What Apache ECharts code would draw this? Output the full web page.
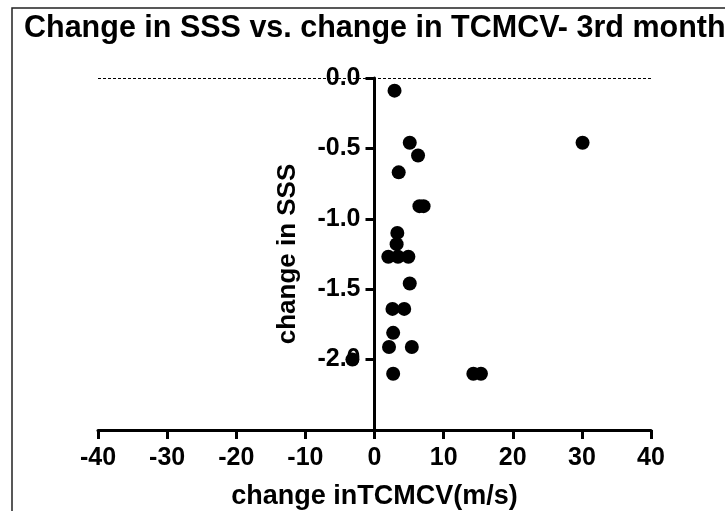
<!DOCTYPE html>
<html>
<head>
<meta charset="utf-8">
<script src="https://cdn.jsdelivr.net/npm/echarts@6/dist/echarts.min.js"></script>
<style>
  html, body { margin: 0; padding: 0; background: #fff; }
  #chart { width: 725px; height: 511px; }
</style>
</head>
<body>
<div id="chart"></div>
<script>
// change in TCMCV (m/s) vs change in SSS
const tcmcvChange = [2.9, 5.1, 6.3, 3.5, 6.5, 7.1, 30.1, 3.3, 3.2, 2.0, 3.4, 4.9, 5.1, 2.6, 4.3, 2.7, 2.1, 5.4, -3.2, 2.7, 14.3, 15.4]
const sssChange = [-0.09, -0.46, -0.55, -0.67, -0.91, -0.91, -0.46, -1.1, -1.18, -1.27, -1.27, -1.27, -1.46, -1.64, -1.64, -1.81, -1.91, -1.91, -2.0, -2.1, -2.1, -2.1]

const xTicks = { min: -40, max: 40, step: 10 }
const yTicks = { min: -2.5, max: 0, step: 0.5 }

const font = "'Liberation Sans', Arial, sans-serif"
const gridLeft = 98
const gridRight = 74
const chartWidth = 725
const chart = echarts.init(document.getElementById('chart'))

// y axis sits at x = 0, shift it there from the grid's left edge
const plotWidth = chartWidth - gridLeft - gridRight
const yAxisShift = ((0 - xTicks.min) / (xTicks.max - xTicks.min)) * plotWidth

chart.setOption({
  animation: false,
  backgroundColor: '#fff',
  title: {
    text: 'Change in SSS vs. change in TCMCV- 3rd month',
    left: 24,
    top: 13,
    padding: 0,
    textStyle: { fontFamily: font, fontSize: 30.5, fontWeight: 'bold', color: '#000' },
  },
  graphic: [
    {
      type: 'rect',
      shape: { x: 12, y: 8, width: 800, height: 600 },
      style: { fill: 'none', stroke: '#222', lineWidth: 1.5 },
      silent: true,
    },
  ],
  grid: { left: gridLeft, right: gridRight, top: 78, bottom: 81, outerBoundsMode: 'none' },
  xAxis: {
    type: 'value',
    min: xTicks.min,
    max: xTicks.max,
    interval: xTicks.step,
    name: 'change inTCMCV(m/s)',
    nameLocation: 'middle',
    nameGap: 53,
    nameTextStyle: { fontFamily: font, fontSize: 27, fontWeight: 'bold', color: '#000' },
    axisLine: { onZero: false, lineStyle: { color: '#000', width: 3 } },
    axisTick: { length: 9, lineStyle: { color: '#000', width: 3 } },
    axisLabel: { margin: 16, fontFamily: font, fontSize: 25, fontWeight: 'bold', color: '#000' },
    splitLine: { show: false },
  },
  yAxis: {
    type: 'value',
    min: yTicks.min,
    max: yTicks.max,
    interval: yTicks.step,
    offset: -yAxisShift,
    name: 'change in SSS',
    nameLocation: 'middle',
    nameGap: 74,
    nameTextStyle: { fontFamily: font, fontSize: 26, fontWeight: 'bold', color: '#000' },
    axisLine: { onZero: false, lineStyle: { color: '#000', width: 3 } },
    axisTick: { length: 9, lineStyle: { color: '#000', width: 3 } },
    axisLabel: {
      margin: 14,
      fontFamily: font,
      fontSize: 25,
      fontWeight: 'bold',
      color: '#000',
      // bottom end of the axis has no label
      formatter: (v) => (v <= yTicks.min ? '' : v.toFixed(1)),
    },
    splitLine: { show: false },
  },
  series: [
    {
      type: 'scatter',
      data: tcmcvChange.map((x, i) => [x, sssChange[i]]),
      symbol: 'circle',
      symbolSize: 14,
      itemStyle: { color: '#000', opacity: 1 },
      markLine: {
        silent: true,
        symbol: 'none',
        label: { show: false },
        lineStyle: { color: '#000', width: 1, type: [3, 2] },
        data: [{ yAxis: 0 }],
      },
    },
  ],
})
</script>
</body>
</html>
